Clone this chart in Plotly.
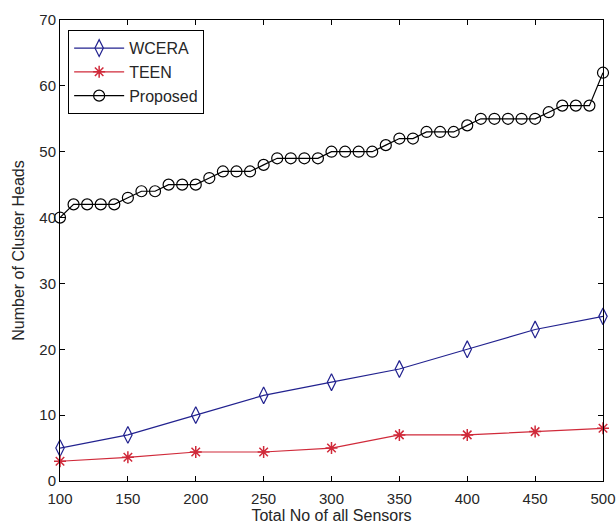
import plotly.graph_objects as go

x_prop = list(range(100, 501, 10))
proposed = [40, 42, 42, 42, 42, 43, 44, 44, 45, 45, 45, 46, 47, 47, 47, 48, 49, 49, 49, 49,
            50, 50, 50, 50, 51, 52, 52, 53, 53, 53, 54, 55, 55, 55, 55, 55, 56, 57, 57, 57, 62]
x_main = [100, 150, 200, 250, 300, 350, 400, 450, 500]
wcera = [5, 7, 10, 13, 15, 17, 20, 23, 25]
teen = [3, 3.6, 4.4, 4.4, 5, 7, 7, 7.5, 8]

x_ticks = [100, 150, 200, 250, 300, 350, 400, 450, 500]
y_ticks = [0, 10, 20, 30, 40, 50, 60, 70]

FONT = "Liberation Sans, Arial, sans-serif"
TXT = "#262626"

fig = go.Figure()
fig.add_trace(go.Scatter(
    x=x_main, y=wcera, name="WCERA", mode="lines+markers", cliponaxis=False,
    line=dict(color="#22228f", width=1.2),
    marker=dict(symbol="diamond-tall-open", size=12, color="#22228f", line=dict(width=1.2)),
))
fig.add_trace(go.Scatter(
    x=x_main, y=teen, name="TEEN", mode="lines+markers", cliponaxis=False,
    line=dict(color="#d02a3a", width=1.2),
    marker=dict(symbol="asterisk-open", size=10, color="#d02a3a", line=dict(width=1.5, color="#d02a3a")),
))
fig.add_trace(go.Scatter(
    x=x_prop, y=proposed, name="Proposed", mode="lines+markers", cliponaxis=False,
    line=dict(color="black", width=1.2),
    marker=dict(symbol="circle-open", size=11, color="black", line=dict(width=1.2)),
))

axis_common = dict(
    showgrid=False, zeroline=False, showline=True, linecolor="black", linewidth=1,
    mirror="ticks", ticks="inside", ticklen=5, tickcolor="black", automargin=False,
    tickfont=dict(family=FONT, size=15, color=TXT),
)
fig.update_xaxes(range=[100, 500], tickvals=x_ticks, ticklabelstandoff=4,
                 title=dict(text="Total No of all Sensors", font=dict(family=FONT, size=16, color=TXT), standoff=0),
                 **axis_common)
fig.update_yaxes(range=[0, 70], tickvals=y_ticks,
                 title=dict(text="Number of Cluster Heads", font=dict(family=FONT, size=16, color=TXT), standoff=10),
                 **axis_common)

fig.update_layout(
    width=616, height=526,
    margin=dict(l=60, r=13, t=20, b=45),
    plot_bgcolor="white", paper_bgcolor="white",
    showlegend=True,
    legend=dict(
        x=0.015, y=0.978, xanchor="left", yanchor="top",
        bgcolor="white", bordercolor="black", borderwidth=1,
        font=dict(family=FONT, size=16, color=TXT),
        tracegroupgap=0, itemwidth=50,
    ),
)

fig.write_html("out.html")
